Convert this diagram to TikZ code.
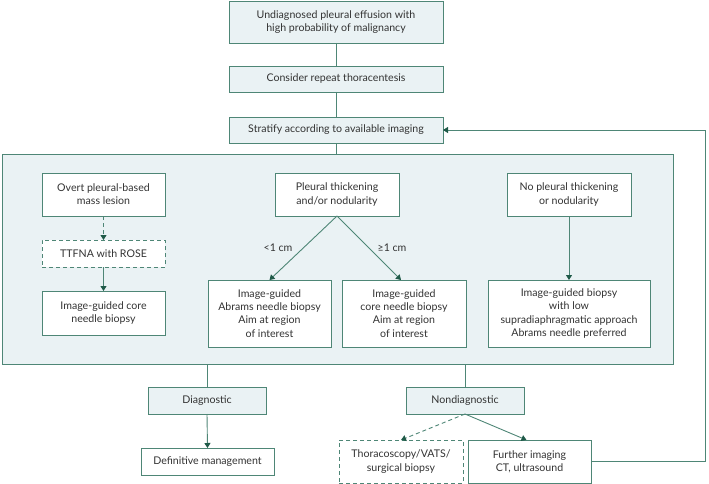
\documentclass[tikz,border=0pt]{standalone}
\usepackage{fontspec}
\setmainfont{Lato}
\usetikzlibrary{arrows.meta}
\definecolor{edge}{HTML}{4E8676}
\definecolor{tip}{HTML}{1F5A48}
\definecolor{panelfill}{HTML}{EAF2F4}
\definecolor{txt}{HTML}{333333}
\tikzset{
  bx/.style={draw=edge, line width=0.9pt, fill=white, inner sep=0pt, outer sep=0pt, align=center, text=txt, font=\fontsize{10.6}{13.2}\selectfont},
  bluebx/.style={bx, fill=panelfill},
  dashbx/.style={bx, dash pattern=on 4pt off 3pt},
  conn/.style={draw=edge, line width=0.9pt},
  arr/.style={conn, -{Triangle[width=6pt,length=5pt,color=tip]}},
  darr/.style={arr, dash pattern=on 4pt off 3pt},
  lbl/.style={text=txt, font=\fontsize{10.6}{13.2}\selectfont, inner sep=0pt}
}
\begin{document}
\begin{tikzpicture}[x=1pt,y=-1pt]
\useasboundingbox (0,0) rectangle (709,484);
\node[bluebx, minimum width=671, minimum height=210] (panel) at (337.5,259) {};
\node[bluebx, minimum width=214, minimum height=42] (n1) at (336,22) {Undiagnosed pleural effusion with\\high probability of malignancy};
\node[bluebx, minimum width=214, minimum height=26] (n2) at (336,79) {Consider repeat thoracentesis};
\node[bluebx, minimum width=214, minimum height=26] (n3) at (336,130) {Stratify according to available imaging};
\node[bx, minimum width=123, minimum height=43] (overt) at (103.5,194.5) {Overt pleural-based\\mass lesion};
\node[dashbx, minimum width=123, minimum height=27] (ttfna) at (103.5,253.5) {TTFNA with ROSE};
\node[bx, minimum width=123, minimum height=44] (core1) at (103.5,313) {Image-guided core\\needle biopsy};
\node[bx, minimum width=124, minimum height=43] (pleural) at (337,194.5) {Pleural thickening\\and/or nodularity};
\node[bx, minimum width=123, minimum height=67] (abrams) at (269.5,313.5) {Image-guided\\Abrams needle biopsy\\Aim at region\\of interest};
\node[bx, minimum width=124, minimum height=67] (core2) at (404,313.5) {Image-guided\\core needle biopsy\\Aim at region\\of interest};
\node[bx, minimum width=124, minimum height=43] (nopl) at (569,194.5) {No pleural thickening\\or nodularity};
\node[bx, minimum width=162, minimum height=67] (low) at (569,313.5) {Image-guided biopsy\\with low\\supradiaphragmatic approach\\Abrams needle preferred};
\node[bluebx, minimum width=118, minimum height=27] (diag) at (207,400.5) {Diagnostic};
\node[bx, minimum width=133, minimum height=27] (defin) at (207.5,461.5) {Definitive management};
\node[bluebx, minimum width=118, minimum height=27] (nondiag) at (465,400.5) {Nondiagnostic};
\node[dashbx, minimum width=124, minimum height=43] (thora) at (401,461.5) {Thoracoscopy/VATS/\\surgical biopsy};
\node[bx, minimum width=123, minimum height=43] (further) at (529.5,461.5) {Further imaging\\CT, ultrasound};
\node[lbl] (lt) at (278,248) {<1 cm};
\node[lbl] (ge) at (392,248) {≥1 cm};
\coordinate (fb) at (705,0);
\draw[conn] (n1.south) -- (n2.north);
\draw[conn] (n2.south) -- (n3.north);
\draw[conn] (n3.south) -- (n3.south |- panel.north);
\draw[darr] (overt.south) -- (ttfna.north);
\draw[arr] (ttfna.south) -- (core1.north);
\draw[arr] (pleural.south) -- (abrams.north);
\draw[arr] (pleural.south) -- ([xshift=-3pt]core2.north);
\draw[arr] (nopl.south) -- (low.north);
\draw[conn] (diag.north |- panel.south) -- (diag.north);
\draw[arr] (diag.south) -- (defin.north);
\draw[conn] (nondiag.north |- panel.south) -- (nondiag.north);
\draw[darr] (nondiag.south) -- (thora.north);
\draw[arr] (nondiag.south) -- ([xshift=-3pt]further.north);
\draw[arr] (further.east) -- (further.east -| fb) -- (n3.east -| fb) -- (n3.east);
\end{tikzpicture}
\end{document}
